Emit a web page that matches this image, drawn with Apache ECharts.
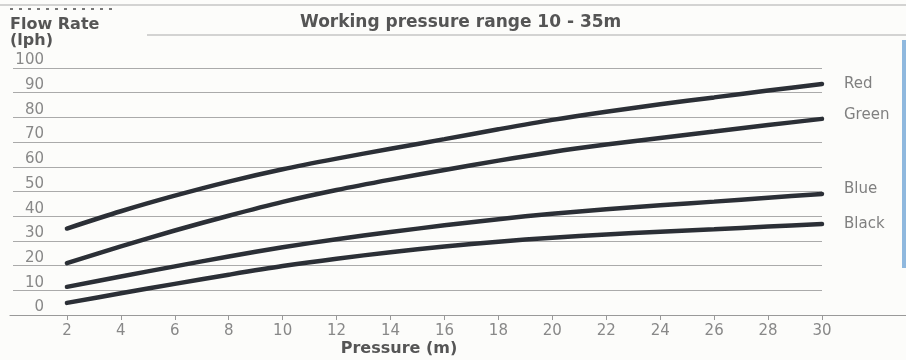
<!DOCTYPE html>
<html>
<head>
<meta charset="utf-8">
<script src="https://cdn.jsdelivr.net/npm/echarts@6/dist/echarts.min.js"></script>
<style>
  html, body { margin: 0; padding: 0; background: #fcfcfa; }
  #chart { width: 906px; height: 360px; }
</style>
</head>
<body>
<div id="chart"></div>
<script>
// pressure (m) and flow rate (lph)
const pressure = [2, 4, 6, 8, 10, 12, 14, 16, 18, 20, 22, 24, 26, 28, 30]
const red = [35, 42, 48.3, 54, 59, 63.3, 67.3, 71.2, 75.2, 79, 82.3, 85.3, 88.1, 90.9, 93.5]
const green = [21, 27.8, 34.2, 40.2, 45.8, 50.6, 54.8, 58.7, 62.5, 66, 69, 71.7, 74.3, 76.9, 79.4]
const blue = [11.4, 15.6, 19.7, 23.7, 27.4, 30.7, 33.6, 36.3, 38.8, 41, 42.8, 44.4, 45.9, 47.5, 49]
const black = [4.9, 8.8, 12.6, 16.3, 19.8, 22.8, 25.4, 27.7, 29.7, 31.3, 32.6, 33.7, 34.7, 35.8, 36.8]
const xTicks = [2, 4, 6, 8, 10, 12, 14, 16, 18, 20, 22, 24, 26, 28, 30]

const FONT = "DejaVu Sans"
const LINE_COLOR = "#2b2f36"

const makeSeries = (name, values, offsetY) => ({
  name,
  type: "line",
  xAxisIndex: 0,
  yAxisIndex: 0,
  data: pressure.map((p, i) => [p, values[i]]),
  smooth: 0.3,
  showSymbol: false,
  lineStyle: { color: LINE_COLOR, width: 4.5, cap: "round" },
  endLabel: {
    show: true,
    formatter: "{a}",
    distance: 22,
    offset: [0, offsetY],
    color: "#808080",
    fontSize: 15,
    fontFamily: FONT,
  },
  emphasis: { disabled: true },
})

const chart = echarts.init(document.getElementById("chart"))
chart.setOption({
  animation: false,
  backgroundColor: "#fcfcfa",
  title: [
    {
      text: "Working pressure range 10 - 35m",
      left: 300,
      top: 14,
      padding: 0,
      textStyle: { fontFamily: FONT, fontSize: 17, fontWeight: "bold", color: "#555" },
    },
    {
      text: "Flow Rate\n(lph)",
      left: 10,
      top: 17,
      padding: 0,
      textStyle: { fontFamily: FONT, fontSize: 16, fontWeight: "bold", color: "#555", lineHeight: 16 },
    },
    {
      text: "Pressure (m)",
      left: 399,
      top: 341,
      padding: 0,
      textAlign: "center",
      textStyle: { fontFamily: FONT, fontSize: 16, fontWeight: "bold", color: "#555" },
    },
  ],
  grid: [
    { left: 13, right: 84, top: 68, bottom: 45 },
    { left: 10, right: 0, top: 68, bottom: 45 },
  ],
  xAxis: [
    {
      type: "value",
      gridIndex: 0,
      min: 0,
      max: 30,
      axisLine: { show: false },
      axisTick: { show: true, customValues: xTicks, length: 5, lineStyle: { color: "#999" } },
      axisLabel: {
        customValues: xTicks,
        margin: 9,
        color: "#888",
        fontSize: 15,
        fontFamily: FONT,
      },
      splitLine: { show: false },
    },
    {
      type: "value",
      gridIndex: 1,
      min: 0,
      max: 1,
      axisLine: { show: true, lineStyle: { color: "#999", width: 1.2 } },
      axisTick: { show: false },
      axisLabel: { show: false },
      splitLine: { show: false },
    },
  ],
  yAxis: [
    {
      type: "value",
      gridIndex: 0,
      min: 0,
      max: 100,
      interval: 10,
      axisLine: { show: false },
      axisTick: { show: false },
      axisLabel: {
        inside: true,
        margin: 31,
        align: "right",
        verticalAlign: "bottom",
        color: "#888",
        fontSize: 15,
        fontFamily: FONT,
      },
      splitLine: { lineStyle: { color: "#aaa", width: 1.2 } },
    },
    { type: "value", gridIndex: 1, show: false },
  ],
  graphic: [
    // page rules at the top
    { type: "line", shape: { x1: 0, y1: 5, x2: 906, y2: 5 }, style: { stroke: "#aaa", lineWidth: 1.2 } },
    { type: "line", shape: { x1: 10, y1: 9, x2: 117, y2: 9 }, style: { stroke: "#777", lineWidth: 2, lineDash: [3, 6] } },
    { type: "line", shape: { x1: 147, y1: 35, x2: 906, y2: 35 }, style: { stroke: "#aaa", lineWidth: 1.2 } },
    // blue edge on the right
    { type: "rect", z: 100, shape: { x: 902, y: 40, width: 4, height: 228 }, style: { fill: "#8fb8de" } },
  ],
  series: [
    makeSeries("Red", red, 0),
    makeSeries("Green", green, -4),
    makeSeries("Blue", blue, -5),
    makeSeries("Black", black, 0),
  ],
})
</script>
</body>
</html>
